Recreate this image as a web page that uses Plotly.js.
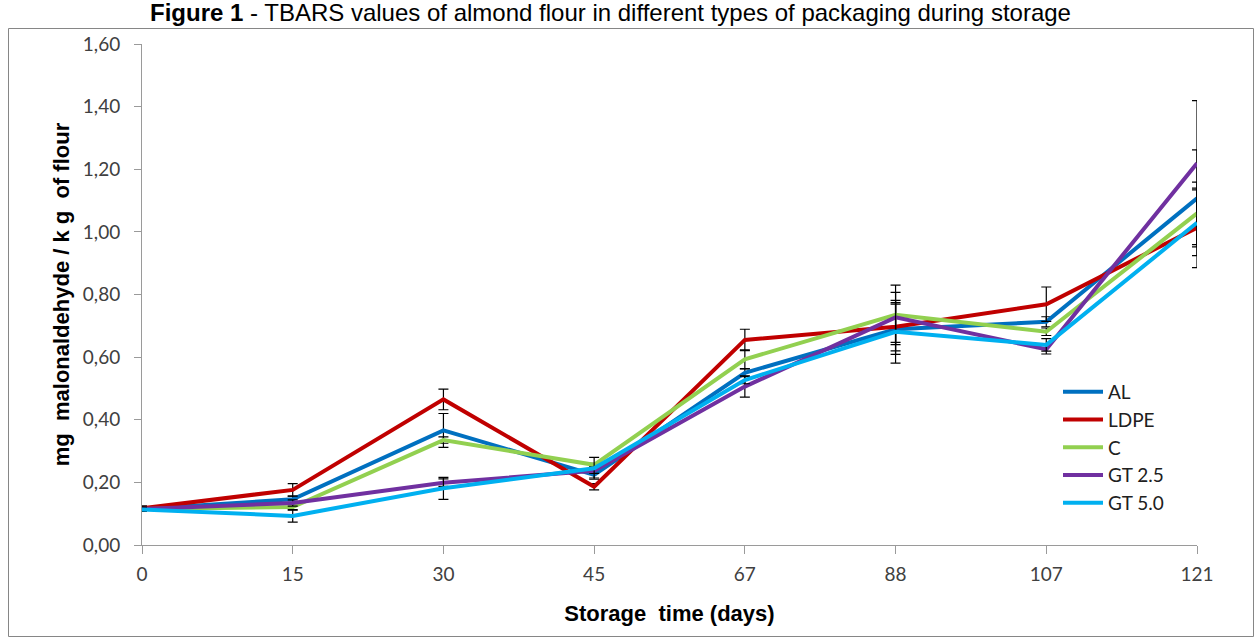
<!DOCTYPE html>
<html>
<head>
<meta charset="utf-8">
<script src="https://cdn.plot.ly/plotly-3.0.1.min.js"></script>
<style>html,body{margin:0;padding:0;background:#fff;}#chart{width:1256px;height:638px;}</style>
</head>
<body>
<div id="chart"></div>
<script>
const days = ['0', '15', '30', '45', '67', '88', '107', '121'];

const seriesNames = ['AL', 'LDPE', 'C', 'GT 2.5', 'GT 5.0'];

const alValues   = [0.115, 0.146, 0.366, 0.224, 0.550, 0.689, 0.713, 1.107];
const ldpeValues = [0.117, 0.176, 0.465, 0.186, 0.655, 0.697, 0.769, 1.013];
const cValues    = [0.115, 0.121, 0.335, 0.256, 0.593, 0.735, 0.681, 1.059];
const gt25Values = [0.115, 0.134, 0.199, 0.237, 0.506, 0.727, 0.625, 1.219];
const gt50Values = [0.113, 0.093, 0.181, 0.245, 0.527, 0.681, 0.639, 1.029];

const alErr   = [0.008, 0.010, 0.054, 0.010, 0.012, 0.080, 0.016, 0.155];
const ldpeErr = [0.008, 0.020, 0.033, 0.010, 0.034, 0.077, 0.055, 0.127];
const cErr    = [0.006, 0.010, 0.010, 0.005, 0.030, 0.095, 0.012, 0.100];
const gt25Err = [0.006, 0.010, 0.012, 0.008, 0.034, 0.080, 0.015, 0.200];
const gt50Err = [0.006, 0.020, 0.035, 0.035, 0.012, 0.100, 0.020, 0.105];

const colors = ['#0070C0', '#C00000', '#92D050', '#7030A0', '#00B0F0'];

const allValues = [alValues, ldpeValues, cValues, gt25Values, gt50Values];
const allErr = [alErr, ldpeErr, cErr, gt25Err, gt50Err];

const traces = seriesNames.map((name, i) => ({
  type: 'scatter',
  mode: 'lines',
  name: name,
  x: days,
  y: allValues[i],
  line: {color: colors[i], width: 4},
  error_y: {type: 'data', array: allErr[i], visible: true, color: '#000000', thickness: 1.2, width: 5}
}));

const L = 142, R = 1197, T = 44, B = 545;
const px2x = p => (p - L) / (R - L);
const px2y = p => (B - p) / (B - T);

const layout = {
  width: 1256,
  height: 638,
  margin: {l: L, r: 1256 - R, t: T, b: 638 - B},
  paper_bgcolor: '#ffffff',
  plot_bgcolor: '#ffffff',
  separators: ',.',
  showlegend: true,
  font: {family: 'Lato, "Liberation Sans", sans-serif', color: '#404040'},
  xaxis: {
    type: 'category',
    range: [0, 7],
    showgrid: false,
    zeroline: false,
    showline: true,
    linecolor: '#9a9a9a',
    linewidth: 1,
    ticks: 'outside',
    ticklen: 8,
    tickcolor: '#9a9a9a',
    ticklabelstandoff: 4,
    tickfont: {size: 19, color: '#404040', family: 'Lato, sans-serif'},
    title: {text: 'Storage  time (days)', font: {family: '"Liberation Sans", Arial, sans-serif', size: 22, color: '#000000', weight: 'bold'}, standoff: 21}
  },
  yaxis: {
    range: [0, 1.6],
    dtick: 0.2,
    tick0: 0,
    tickformat: '.2f',
    showgrid: false,
    zeroline: false,
    showline: true,
    linecolor: '#9a9a9a',
    linewidth: 1,
    ticks: 'outside',
    ticklen: 7,
    tickcolor: '#9a9a9a',
    ticklabelstandoff: 10,
    tickfont: {size: 19, color: '#404040', family: 'Lato, sans-serif'},
    title: {text: 'mg  malonaldehyde / k g  of flour', font: {family: '"Liberation Sans", Arial, sans-serif', size: 22, color: '#000000', weight: 'bold'}, standoff: 7}
  },
  legend: {
    x: px2x(1058),
    y: px2y(373),
    xanchor: 'left',
    yanchor: 'top',
    bgcolor: 'rgba(0,0,0,0)',
    font: {size: 19, color: '#202020', family: 'Lato, sans-serif'},
    itemwidth: 40
  },
  annotations: [{
    xref: 'paper', yref: 'paper',
    x: px2x(610), y: px2y(13),
    xanchor: 'center', yanchor: 'middle',
    showarrow: false,
    text: '<b>Figure 1</b> - TBARS values of almond flour in different types of packaging during storage',
    font: {family: '"Liberation Sans", Arial, sans-serif', size: 24, color: '#000000'}
  }],
  shapes: [{
    type: 'rect', xref: 'paper', yref: 'paper',
    x0: px2x(8.5), x1: px2x(1253.5), y0: px2y(636.5), y1: px2y(28.5),
    line: {color: '#868686', width: 1}, fillcolor: 'rgba(0,0,0,0)', layer: 'below'
  }]
};

Plotly.newPlot('chart', traces, layout, {displayModeBar: false, staticPlot: true});
</script>
</body>
</html>
